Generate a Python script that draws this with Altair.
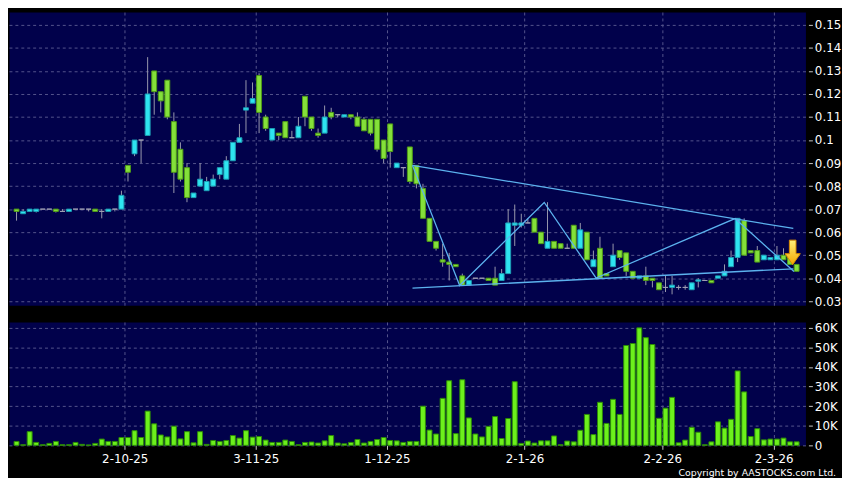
import altair as alt
import pandas as pd

# ---------------- data ----------------
opens = [0.070, 0.068, 0.069, 0.069, 0.070, 0.070, 0.070, 0.069, 0.069, 0.070,
         0.070, 0.070, 0.070, 0.069, 0.069, 0.070, 0.070, 0.089, 0.094, 0.100,
         0.102, 0.130, 0.121, 0.126, 0.108, 0.096, 0.088, 0.075, 0.080, 0.078,
         0.080, 0.085, 0.083, 0.091, 0.099, 0.113, 0.116, 0.128, 0.110, 0.100,
         0.103, 0.108, 0.101, 0.101, 0.119, 0.110, 0.103, 0.103, 0.112, 0.111,
         0.110, 0.111, 0.110, 0.109, 0.109, 0.109, 0.100, 0.107, 0.088, 0.088,
         0.097, 0.089, 0.079, 0.066, 0.056, 0.048, 0.047, 0.046, 0.041, 0.037,
         0.040, 0.040, 0.040, 0.040, 0.039, 0.042, 0.063, 0.063, 0.064, 0.066,
         0.060, 0.053, 0.056, 0.055, 0.053, 0.063, 0.053, 0.060, 0.045, 0.053,
         0.042, 0.045, 0.052, 0.051, 0.043, 0.040, 0.041, 0.040, 0.038, 0.036,
         0.036, 0.036, 0.036, 0.035, 0.0387, 0.039, 0.039, 0.040, 0.041, 0.045,
         0.049, 0.065, 0.052, 0.052, 0.048, 0.048, 0.048, 0.050, 0.049, 0.046]
highs = [0.070, 0.070, 0.070, 0.070, 0.070, 0.070, 0.070, 0.070, 0.070, 0.070,
         0.070, 0.070, 0.070, 0.070, 0.070, 0.070, 0.078, 0.089, 0.100, 0.100,
         0.136, 0.130, 0.121, 0.126, 0.112, 0.099, 0.090, 0.077, 0.090, 0.084,
         0.085, 0.088, 0.093, 0.099, 0.107, 0.126, 0.125, 0.129, 0.111, 0.105,
         0.103, 0.108, 0.104, 0.110, 0.119, 0.110, 0.105, 0.115, 0.114, 0.111,
         0.111, 0.111, 0.112, 0.110, 0.109, 0.109, 0.100, 0.107, 0.090, 0.088,
         0.097, 0.089, 0.081, 0.066, 0.056, 0.055, 0.051, 0.046, 0.042, 0.039,
         0.040, 0.040, 0.040, 0.045, 0.044, 0.070, 0.072, 0.068, 0.066, 0.066,
         0.060, 0.073, 0.056, 0.055, 0.055, 0.063, 0.064, 0.060, 0.052, 0.058,
         0.042, 0.055, 0.052, 0.051, 0.043, 0.041, 0.045, 0.040, 0.038, 0.041,
         0.041, 0.037, 0.037, 0.038, 0.040, 0.039, 0.039, 0.041, 0.046, 0.052,
         0.066, 0.066, 0.052, 0.054, 0.050, 0.049, 0.054, 0.053, 0.049, 0.046]
lows = [0.065, 0.068, 0.069, 0.0685, 0.070, 0.070, 0.0685, 0.069, 0.069, 0.070,
        0.070, 0.069, 0.069, 0.066, 0.069, 0.069, 0.070, 0.082, 0.093, 0.090,
        0.102, 0.111, 0.112, 0.109, 0.077, 0.082, 0.073, 0.075, 0.080, 0.078,
        0.080, 0.083, 0.083, 0.091, 0.099, 0.103, 0.116, 0.103, 0.104, 0.100,
        0.100, 0.101, 0.101, 0.101, 0.106, 0.104, 0.101, 0.103, 0.109, 0.110,
        0.110, 0.109, 0.106, 0.104, 0.102, 0.095, 0.090, 0.088, 0.088, 0.084,
        0.081, 0.079, 0.066, 0.056, 0.052, 0.045, 0.039, 0.045, 0.037, 0.037,
        0.040, 0.040, 0.039, 0.037, 0.039, 0.042, 0.054, 0.062, 0.064, 0.060,
        0.055, 0.053, 0.053, 0.053, 0.053, 0.053, 0.053, 0.048, 0.045, 0.040,
        0.041, 0.045, 0.048, 0.041, 0.040, 0.040, 0.037, 0.036, 0.035, 0.034,
        0.033, 0.035, 0.035, 0.035, 0.036, 0.039, 0.038, 0.040, 0.041, 0.045,
        0.047, 0.050, 0.051, 0.047, 0.048, 0.048, 0.048, 0.048, 0.046, 0.043]
closes = [0.069, 0.069, 0.070, 0.070, 0.070, 0.070, 0.069, 0.069, 0.070, 0.070,
          0.070, 0.070, 0.069, 0.069, 0.070, 0.070, 0.076, 0.086, 0.100, 0.100,
          0.120, 0.121, 0.117, 0.110, 0.086, 0.083, 0.075, 0.077, 0.083, 0.082,
          0.083, 0.088, 0.091, 0.099, 0.101, 0.114, 0.118, 0.112, 0.105, 0.105,
          0.102, 0.101, 0.101, 0.106, 0.110, 0.105, 0.102, 0.110, 0.110, 0.111,
          0.111, 0.110, 0.106, 0.104, 0.103, 0.096, 0.092, 0.095, 0.090, 0.088,
          0.082, 0.081, 0.066, 0.056, 0.053, 0.047, 0.046, 0.045, 0.037, 0.039,
          0.040, 0.040, 0.039, 0.037, 0.042, 0.064, 0.064, 0.064, 0.064, 0.060,
          0.055, 0.056, 0.053, 0.053, 0.053, 0.053, 0.061, 0.048, 0.048, 0.040,
          0.041, 0.050, 0.049, 0.043, 0.040, 0.041, 0.039, 0.039, 0.035, 0.036,
          0.037, 0.036, 0.036, 0.038, 0.0393, 0.039, 0.038, 0.041, 0.043, 0.049,
          0.066, 0.050, 0.051, 0.047, 0.050, 0.049, 0.050, 0.048, 0.046, 0.043]
volumes_k = [2, 0.3, 7, 1.5, 0.3, 1, 2, 0.3, 0.3, 1.5, 0.5, 0.2, 1, 3.2, 2, 2, 4, 4, 7.5, 4,
             17.5, 11, 5.3, 4.3, 9.8, 3.3, 7, 1.3, 7, 0.5, 2.5, 2, 2.5, 5, 3.7, 7.5, 4.2, 4.5, 2.7, 1.5,
             1.5, 2.7, 2, 0.3, 1.5, 1.7, 1.2, 2.3, 5, 1.2, 0.8, 1.5, 3, 1.2, 2, 3, 4, 2.5, 2.3, 1.5,
             2, 2, 20, 7.8, 5.8, 24, 33, 6, 33.5, 14, 5.8, 4.3, 9.7, 14.7, 3.5, 13.7, 32.5, 1, 2.2, 1.2,
             2.3, 2.3, 4.8, 0.3, 2.2, 1.8, 7.7, 15.8, 5.5, 22, 11.2, 23.5, 15.8, 51, 52, 60, 55, 51.5, 13.8, 19,
             24.5, 1.3, 2.7, 9.2, 6.7, 0.3, 1.8, 12, 8.8, 13.3, 38, 27.3, 4.5, 8.5, 2.8, 3.2, 3.2, 3.7, 1.8, 1.8]

date_tick_pos = [16.5, 36.5, 56.5, 77.5, 98.5, 115.5]
date_tick_labels = ["2-10-25", "3-11-25", "1-12-25", "2-1-26", "2-2-26", "2-3-26"]
price_ticks = [0.03, 0.04, 0.05, 0.06, 0.07, 0.08, 0.09, 0.10, 0.11, 0.12, 0.13, 0.14, 0.15]
volume_ticks = [0, 10000, 20000, 30000, 40000, 50000, 60000]

# trend lines drawn on the chart (index, price)
upper_line_x = [60.4, 118.5]
upper_line_y = [0.089, 0.0616]
lower_line_x = [60.4, 118.5]
lower_line_y = [0.0357, 0.0441]
zigzag_x = [60.4, 67.6, 80.5, 88.4, 109.6, 118.6]
zigzag_y = [0.089, 0.0368, 0.0729, 0.0401, 0.0659, 0.0429]

arrow_x = [118.4]
arrow_y = [0.0512]

copyright_text = "Copyright by AASTOCKS.com Ltd."

# ---------------- tables ----------------
n = len(closes)
idx = list(range(n))
direction = ["up" if c > o else ("down" if c < o else "flat") for o, c in zip(opens, closes)]
df = pd.DataFrame({"i": idx, "open": opens, "high": highs, "low": lows,
                   "close": closes, "vol": [v * 1000 for v in volumes_k], "dir": direction})

lines_rows = []
for name, xs, ys in [("upper", upper_line_x, upper_line_y),
                     ("lower", lower_line_x, lower_line_y),
                     ("zigzag", zigzag_x, zigzag_y)]:
    for k, (a, b) in enumerate(zip(xs, ys)):
        lines_rows.append({"x": a, "y": b, "line": name, "ord": k})
lines_df = pd.DataFrame(lines_rows)
arrow_df = pd.DataFrame({"x": arrow_x, "y": arrow_y})
copy_df = pd.DataFrame({"t": [copyright_text]})

# ---------------- styling ----------------
W = 807
PRICE_H = 297
VOL_H = 125
x_dom = [-0.4, 119.6]
y_dom = [0.02828, 0.15557]
v_dom = [0, 63000]

dir_dom = ["up", "down", "flat"]
fill_rng = ["#2ee4f0", "#84e03a", "#a0a0b4"]
stroke_rng = ["#1c9cb4", "#4e9a16", "#a0a0b4"]

labels_js = "[" + ",".join("'" + s + "'" for s in date_tick_labels) + "]"
pos_js = "[" + ",".join(str(p) for p in date_tick_pos) + "]"
x_label_expr = labels_js + "[indexof(" + pos_js + ", datum.value)]"

price_axis = alt.Axis(orient="right", values=price_ticks, format=".2~f", grid=True,
                      title=None, offset=3, tickSize=4, labelPadding=2,
                      labelOverlap=False, labelFlush=False, labelSeparation=0)

x_price = alt.X("i:Q", scale=alt.Scale(domain=x_dom, nice=False, zero=False),
                axis=alt.Axis(values=date_tick_pos, labels=False, ticks=False, domain=False,
                              grid=True, title=None))
y_price = alt.Y("low:Q", scale=alt.Scale(domain=y_dom, nice=False, zero=False),
                axis=price_axis)

wicks = alt.Chart(df).mark_rule(color="#9a9aae", strokeWidth=1).encode(
    x=x_price, y=y_price, y2="high:Q")

bodies = alt.Chart(df).mark_bar(size=5, strokeWidth=1).encode(
    x="i:Q", y=alt.Y("open:Q", axis=price_axis), y2="close:Q",
    fill=alt.Fill("dir:N", scale=alt.Scale(domain=dir_dom, range=fill_rng), legend=None),
    stroke=alt.Stroke("dir:N", scale=alt.Scale(domain=dir_dom, range=stroke_rng), legend=None))

trend = alt.Chart(lines_df).mark_line(color="#5cb2ee", strokeWidth=1.3).encode(
    x="x:Q", y=alt.Y("y:Q", axis=price_axis), detail="line:N", order="ord:Q")

arrow_fill = alt.LinearGradient(
    gradient="linear", x1=0, y1=0, x2=0, y2=1,
    stops=[alt.GradientStop(offset=0, color="#fff07a"),
           alt.GradientStop(offset=1, color="#f5a800")])
arrow_shape = "M -0.27 -1 L 0.27 -1 L 0.27 0.1 L 0.62 0.1 L 0 1 L -0.62 0.1 L -0.27 0.1 Z"
arrow = alt.Chart(arrow_df).mark_point(shape=arrow_shape, size=620, filled=True,
                                       fill=arrow_fill, stroke="#d88a00", strokeWidth=1,
                                       opacity=1).encode(x="x:Q", y=alt.Y("y:Q", axis=price_axis))

price = alt.layer(wicks, bodies, trend, arrow).properties(width=W, height=PRICE_H)

x_vol = alt.X("i:Q", scale=alt.Scale(domain=x_dom, nice=False, zero=False),
              axis=alt.Axis(values=date_tick_pos, labelExpr=x_label_expr, domain=False,
                            grid=True, title=None, tickSize=4, labelPadding=4,
                            labelAngle=0, labelOverlap=False))
y_vol = alt.Y("vol:Q", scale=alt.Scale(domain=v_dom, nice=False, zero=True),
              axis=alt.Axis(orient="right", values=volume_ticks, grid=True, title=None,
                            offset=3, tickSize=4, labelPadding=2, labelOverlap=False,
                            labelFlush=False,
                            labelExpr="datum.value == 0 ? '0' : format(datum.value / 1000, 'd') + 'K'"))

vol_bars = alt.Chart(df).mark_bar(size=5, fill="#6cf01c", stroke="#2c8a06", strokeWidth=1).encode(
    x=x_vol, y=y_vol)

copyright = alt.Chart(copy_df).mark_text(align="right", baseline="middle", color="#ffffff",
                                         font="DejaVu Sans", fontSize=9.5).encode(
    x=alt.value(838), y=alt.value(153), text="t:N")

volume = alt.layer(vol_bars, copyright).properties(width=W, height=VOL_H)

chart = alt.vconcat(price, volume, spacing=13).properties(
    background="#000000", padding=0
).configure_view(fill="#01014b", stroke="transparent").configure_axis(
    labelColor="#ffffff", labelFont="DejaVu Sans", labelFontSize=12,
    tickColor="#c8c8c8", gridColor="#55558c", gridDash=[3, 3], gridWidth=1,
    domain=False, labelOverlap=False
)

chart.save("out.html", embed_options={"renderer": "svg", "actions": False})
